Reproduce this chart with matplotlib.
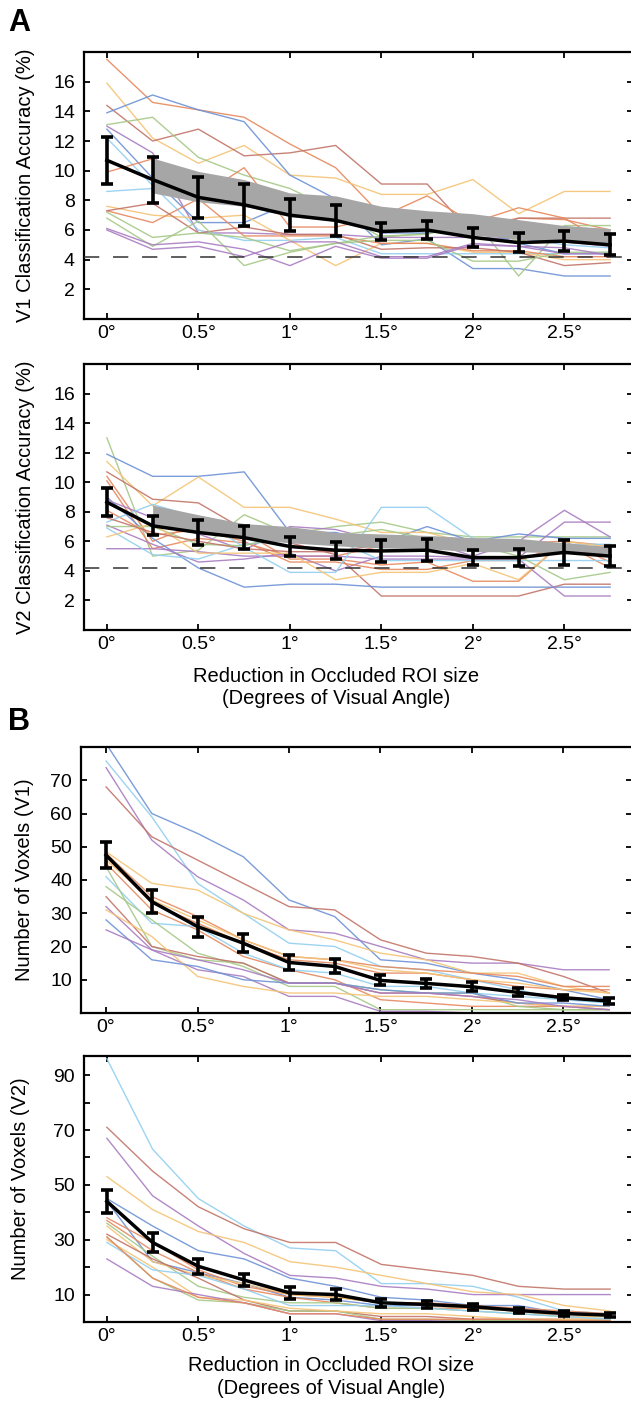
import matplotlib
matplotlib.use('Agg')
import matplotlib.pyplot as plt

plt.rcParams['font.family'] = ['Liberation Sans', 'DejaVu Sans']

# reduction in occluded ROI size (deg)
x = [0, 0.25, 0.5, 0.75, 1.0, 1.25, 1.5, 1.75, 2.0, 2.25, 2.5, 2.75]
xtick_pos = [0, 0.5, 1, 1.5, 2, 2.5]
xtick_labels = ['0°', '0.5°', '1°', '1.5°', '2°', '2.5°']
chance = 4.17

pal = {'blue': '#6d92d6', 'lblue': '#92cff0', 'orange': '#e6895f', 'yellow': '#f4c476',
       'green': '#a5c886', 'purple': '#a97cc1', 'dred': '#c27468'}

# --- A: V1 classification accuracy ---
v1_acc_colors = ['orange', 'yellow', 'dred', 'blue', 'green', 'purple', 'blue', 'lblue', 'orange',
                 'lblue', 'yellow', 'orange', 'dred', 'green', 'green', 'purple', 'purple']
v1_acc_subjects = [
    [17.5, 14.6, 14.1, 13.6, 11.8, 10.2, 7.0, 6.2, 6.2, 6.8, 6.7, 6.0],
    [15.9, 12.2, 10.5, 11.7, 9.7, 9.5, 8.4, 8.4, 9.4, 7.1, 8.6, 8.6],
    [14.4, 12.0, 12.8, 11.0, 11.2, 11.7, 9.1, 9.1, 5.7, 6.8, 6.8, 6.8],
    [13.9, 15.1, 14.1, 13.3, 9.7, 8.1, 5.0, 5.4, 3.4, 3.4, 2.9, 2.9],
    [13.1, 13.6, 10.9, 9.7, 8.8, 7.3, 5.5, 5.8, 6.8, 2.9, 6.3, 6.3],
    [13.0, 11.2, 5.8, 5.8, 5.7, 5.7, 5.5, 5.5, 5.5, 5.4, 5.2, 4.9],
    [12.8, 9.5, 6.5, 6.5, 7.8, 7.8, 5.8, 5.8, 6.1, 5.1, 4.4, 4.4],
    [12.2, 9.0, 6.0, 5.3, 5.3, 5.5, 4.4, 4.4, 4.4, 4.4, 4.4, 4.5],
    [9.9, 10.8, 8.2, 10.2, 6.2, 6.2, 6.9, 8.3, 6.5, 7.5, 6.8, 5.0],
    [8.6, 8.8, 8.0, 7.9, 7.5, 7.3, 6.8, 6.8, 6.2, 5.5, 5.0, 4.8],
    [7.6, 7.0, 6.8, 7.0, 5.3, 3.6, 5.1, 5.1, 4.5, 4.5, 4.0, 4.0],
    [7.3, 6.5, 8.1, 5.6, 5.6, 5.6, 5.1, 5.1, 4.6, 4.6, 4.2, 4.2],
    [7.3, 7.8, 5.8, 6.2, 5.7, 5.7, 4.7, 4.8, 4.8, 4.5, 3.6, 3.8],
    [7.2, 5.5, 5.8, 5.5, 4.6, 5.1, 5.3, 5.3, 3.9, 3.9, 4.5, 4.5],
    [6.8, 4.9, 6.6, 3.6, 4.5, 5.1, 5.6, 5.7, 6.6, 5.2, 6.2, 6.0],
    [6.0, 4.7, 4.9, 4.2, 5.2, 5.2, 4.2, 4.2, 5.1, 4.9, 4.4, 4.4],
    [6.1, 5.0, 5.2, 4.7, 3.6, 4.9, 4.1, 4.1, 5.0, 4.9, 4.8, 4.3],
]
v1_acc_mean = [10.7, 9.4, 8.2, 7.7, 7.0, 6.65, 5.9, 6.0, 5.5, 5.15, 5.25, 5.0]
v1_acc_sem = [1.6, 1.55, 1.4, 1.4, 1.1, 1.05, 0.6, 0.6, 0.65, 0.65, 0.65, 0.7]
v1_band_lo = [8.5, 7.9, 7.6, 6.9, 6.6, 5.9, 6.0, 5.65, 5.4, 5.2, 5.1]
v1_band_hi = [10.85, 9.95, 9.4, 8.5, 8.3, 7.6, 7.3, 7.1, 6.7, 6.3, 6.1]

# --- A: V2 classification accuracy ---
v2_acc_colors = ['green', 'blue', 'yellow', 'dred', 'orange', 'orange', 'blue', 'purple', 'purple',
                 'purple', 'orange', 'lblue', 'lblue', 'green', 'yellow', 'dred']
v2_acc_subjects = [
    [13.0, 5.0, 5.4, 7.8, 6.5, 7.0, 7.3, 6.6, 6.3, 6.3, 6.3, 6.3],
    [11.9, 10.4, 10.4, 10.7, 6.6, 6.6, 5.9, 7.0, 6.0, 6.5, 6.2, 6.2],
    [11.4, 8.4, 10.35, 8.3, 8.3, 7.5, 6.6, 6.6, 5.8, 5.8, 5.6, 5.5],
    [10.7, 8.85, 8.6, 6.8, 5.9, 5.1, 2.3, 2.3, 2.3, 2.3, 3.1, 3.1],
    [10.4, 6.0, 7.2, 6.6, 4.8, 4.8, 4.4, 4.6, 3.3, 3.3, 6.0, 4.6],
    [10.1, 5.5, 6.2, 5.9, 5.0, 5.0, 5.7, 5.7, 5.6, 5.9, 6.0, 5.7],
    [9.0, 6.2, 4.2, 2.9, 3.1, 3.1, 2.9, 2.9, 2.9, 2.9, 2.9, 2.9],
    [8.8, 7.6, 6.5, 5.4, 7.0, 6.8, 6.0, 6.0, 5.0, 6.0, 8.1, 6.3],
    [7.1, 5.8, 4.6, 4.8, 5.2, 4.0, 5.0, 5.0, 4.9, 4.9, 7.3, 7.3],
    [5.5, 5.5, 5.3, 5.0, 5.0, 5.0, 4.8, 4.8, 4.8, 4.8, 2.3, 2.3],
    [8.1, 6.4, 6.8, 6.0, 4.6, 4.6, 4.1, 4.1, 4.7, 4.7, 5.8, 4.2],
    [7.3, 8.5, 7.6, 5.6, 3.9, 3.9, 8.3, 8.3, 6.2, 6.0, 5.8, 5.8],
    [6.9, 5.1, 4.8, 5.8, 6.1, 6.1, 4.7, 4.7, 4.7, 4.7, 4.7, 4.7],
    [7.0, 7.0, 5.8, 5.7, 6.5, 6.4, 6.8, 6.2, 5.8, 5.0, 3.4, 3.9],
    [6.3, 7.2, 5.2, 5.2, 5.2, 3.4, 3.9, 3.9, 4.5, 3.4, 6.0, 5.6],
    [7.6, 6.6, 6.0, 5.5, 5.3, 5.3, 5.8, 5.8, 5.6, 5.5, 5.7, 5.4],
]
v2_acc_mean = [8.65, 7.05, 6.6, 6.25, 5.65, 5.4, 5.35, 5.4, 4.9, 4.9, 5.25, 5.0]
v2_acc_sem = [0.95, 0.65, 0.85, 0.8, 0.62, 0.58, 0.72, 0.73, 0.52, 0.6, 0.85, 0.7]
v2_band_lo = [7.1, 6.55, 6.2, 5.9, 5.7, 5.55, 5.5, 5.3, 5.3, 5.2, 5.15]
v2_band_hi = [8.45, 7.8, 7.2, 7.0, 6.6, 6.5, 6.4, 6.25, 6.2, 5.9, 5.65]

# --- B: number of voxels V1 ---
v1_vox_colors = ['blue', 'lblue', 'purple', 'dred', 'yellow', 'orange', 'orange', 'yellow', 'orange',
                 'lblue', 'green', 'green', 'dred', 'purple', 'yellow', 'blue', 'purple']
v1_vox_subjects = [
    [81, 60, 54, 47, 34, 29, 16, 15, 12, 10, 7, 4],
    [75.8, 59, 39, 30, 21, 20, 14, 13, 10, 7, 4, 3],
    [73.8, 52, 41, 34, 25, 24, 20, 16, 15, 15, 13, 13],
    [68, 53, 46, 39, 32, 31, 22, 18, 17, 15, 11, 6],
    [48.5, 39, 37, 30, 25, 22, 18, 16, 12, 12, 8, 6],
    [48, 35, 29, 22, 17, 16, 14, 13, 12, 11, 8, 8],
    [47, 33, 27, 21, 16, 15, 12, 12, 10, 8, 7, 7],
    [46, 34, 28, 22, 17, 16, 13, 12, 10, 9, 7, 6],
    [45, 31, 25, 17, 13, 10, 4, 3, 2, 2, 2, 2],
    [41, 27, 26, 18, 13, 12, 8, 8, 6, 5, 4, 4],
    [38, 28, 18, 14, 8, 8, 1, 1, 1, 1, 1, 1],
    [44, 20, 16, 15, 9, 9, 7, 6, 6, 2, 1, 1],
    [35, 20, 17, 15, 9, 9, 6, 6, 5, 3, 2, 1],
    [32, 19, 13, 11, 5, 5, 0.5, 0.5, 0, 0, 0, 0],
    [31, 23, 11, 8, 6, 6, 5, 5, 4, 3, 2, 2],
    [28, 16, 14, 10, 9, 9, 7, 6, 6, 3, 3, 2],
    [25, 19, 16, 13, 9, 9, 6, 6, 5, 4, 2, 1],
]
v1_vox_mean = [47.5, 33.5, 26.0, 21.0, 15.2, 14.0, 9.8, 8.9, 7.9, 6.2, 4.6, 3.6]
v1_vox_sem = [4.0, 3.4, 3.0, 2.7, 2.2, 2.1, 1.5, 1.3, 1.3, 1.2, 0.8, 0.9]

# --- B: number of voxels V2 ---
v2_vox_colors = ['lblue', 'dred', 'purple', 'yellow', 'blue', 'blue', 'orange', 'orange', 'green',
                 'yellow', 'dred', 'green', 'yellow', 'lblue', 'purple', 'orange']
v2_vox_subjects = [
    [96, 63, 45, 35, 27, 26, 14, 14, 13, 9, 4, 3],
    [71, 55, 42, 34, 29, 29, 21, 19, 17, 13, 12, 12],
    [67, 46, 35, 25, 17, 16, 13, 12, 10, 10, 10, 10],
    [53, 41, 33, 29, 22, 20, 17, 14, 11, 10, 6, 4],
    [45, 35, 26, 23, 16, 13, 9, 8, 6, 6, 3, 2],
    [44, 22, 18, 14, 9, 8, 6, 6, 5, 4, 2, 2],
    [38, 29, 19, 13, 10, 9, 7, 7, 6, 5, 4, 3],
    [37, 26, 18, 12, 9, 7, 5, 5, 5, 4, 3, 2],
    [36, 24, 13, 9, 7, 7, 5, 5, 4, 3, 2, 2],
    [35, 22, 17, 14, 10, 9, 7, 6, 5, 4, 2, 2],
    [32, 23, 16, 8, 4, 4, 2, 2, 1, 1, 1, 1],
    [31, 16, 8, 7, 4, 4, 1, 1, 0.5, 0.5, 0.5, 0.5],
    [30, 20, 9, 8, 5, 4, 3, 3, 2, 1, 1, 1],
    [29, 19, 17, 12, 6, 6, 6, 5, 4, 3, 2, 1],
    [23, 13, 10, 7, 3, 3, 0.5, 0.5, 0, 0, 0, 0],
    [31, 16, 9, 7, 3, 3, 1, 1, 1, 1, 0.5, 0.5],
]
v2_vox_mean = [44.0, 29.0, 20.3, 15.3, 10.6, 10.0, 7.0, 6.4, 5.6, 4.2, 3.1, 2.5]
v2_vox_sem = [4.2, 3.4, 2.7, 2.3, 2.2, 2.1, 1.5, 1.4, 1.1, 1.0, 0.9, 0.8]

W, H = 631, 1401
fig = plt.figure(figsize=(W / 100, H / 100), dpi=100)
FS = 14


def make_ax(left, top, bottom, right=633):
    return fig.add_axes([left / W, 1 - bottom / H, (right - left) / W, (bottom - top) / H])


def draw(ax, subjects, colors, mean, sem, band_lo=None, band_hi=None, show_chance=False):
    for vals, c in zip(subjects, colors):
        ax.plot(x, vals, color=pal[c], lw=1.0, alpha=0.9, zorder=2)
    if band_lo is not None:
        ax.fill_between(x[1:], band_lo, band_hi, color='#a6a6a6', lw=0, zorder=3)
    if show_chance:
        ax.axhline(chance, color='#333333', lw=1.1, ls=(0, (10, 9)), zorder=4)
    ax.errorbar(x, mean, yerr=sem, color='black', lw=2.5, elinewidth=2.6,
                capsize=4, capthick=2.6, zorder=5)
    ax.set_xticks(xtick_pos)
    ax.set_xticklabels(xtick_labels)
    ax.tick_params(direction='in', top=True, right=True, length=4, width=1.3,
                   labelsize=FS)
    ax.tick_params(axis='y', pad=6.5)
    ax.tick_params(axis='x', pad=4)
    for s in ax.spines.values():
        s.set_linewidth(1.6)
    ax.spines['right'].set_visible(False)


# panel A top
ax1 = make_ax(84, 52, 319)
draw(ax1, v1_acc_subjects, v1_acc_colors, v1_acc_mean, v1_acc_sem, v1_band_lo, v1_band_hi, True)
ax1.set_xlim(-0.125, 2.875)
ax1.set_ylim(0, 18)
ax1.set_yticks(range(2, 17, 2))
ax1.set_ylabel('V1 Classification Accuracy (%)', fontsize=FS + 0.5)
ax1.yaxis.set_label_coords((35 - 84) / 549, 0.5)

# panel A bottom
ax2 = make_ax(84, 364, 630)
draw(ax2, v2_acc_subjects, v2_acc_colors, v2_acc_mean, v2_acc_sem, v2_band_lo, v2_band_hi, True)
ax2.set_xlim(-0.125, 2.875)
ax2.set_ylim(0, 18)
ax2.set_yticks(range(2, 17, 2))
ax2.set_ylabel('V2 Classification Accuracy (%)', fontsize=FS + 0.5)
ax2.yaxis.set_label_coords((35 - 84) / 549, 0.5)
ax2.set_xlabel('Reduction in Occluded ROI size\n(Degrees of Visual Angle)', fontsize=FS + 0.5,
               linespacing=1.2)
ax2.xaxis.set_label_coords((336 - 84) / 549, -(667 - 630) / 266)

# panel B top
ax3 = make_ax(81, 747, 1013, 632)
draw(ax3, v1_vox_subjects, v1_vox_colors, v1_vox_mean, v1_vox_sem)
ax3.set_xlim(-0.137, 2.875)
ax3.set_ylim(0, 80)
ax3.set_yticks(range(10, 71, 10))
ax3.set_ylabel('Number of Voxels (V1)', fontsize=FS + 0.5)
ax3.yaxis.set_label_coords((34 - 81) / 551, 0.5)

# panel B bottom
ax4 = make_ax(84, 1056, 1322)
draw(ax4, v2_vox_subjects, v2_vox_colors, v2_vox_mean, v2_vox_sem)
ax4.set_xlim(-0.125, 2.875)
ax4.set_ylim(0, 97)
ax4.set_yticks(range(10, 91, 10))
ax4.set_yticklabels([str(v) if v % 20 == 10 else '' for v in range(10, 91, 10)])
ax4.set_ylabel('Number of Voxels (V2)', fontsize=FS + 0.5)
ax4.yaxis.set_label_coords((30 - 84) / 549, 0.54)
ax4.set_xlabel('Reduction in Occluded ROI size\n(Degrees of Visual Angle)', fontsize=FS + 0.5,
               linespacing=1.3)
ax4.xaxis.set_label_coords((331 - 84) / 549, -(1356 - 1322) / 266)

fig.text(8 / W, 1 - 8 / H, 'A', fontsize=22, fontweight='bold', va='top', ha='left')
fig.text(8 / W, 1 - 707 / H, 'B', fontsize=22, fontweight='bold', va='top', ha='left')

fig.savefig('out.png', dpi=100)
